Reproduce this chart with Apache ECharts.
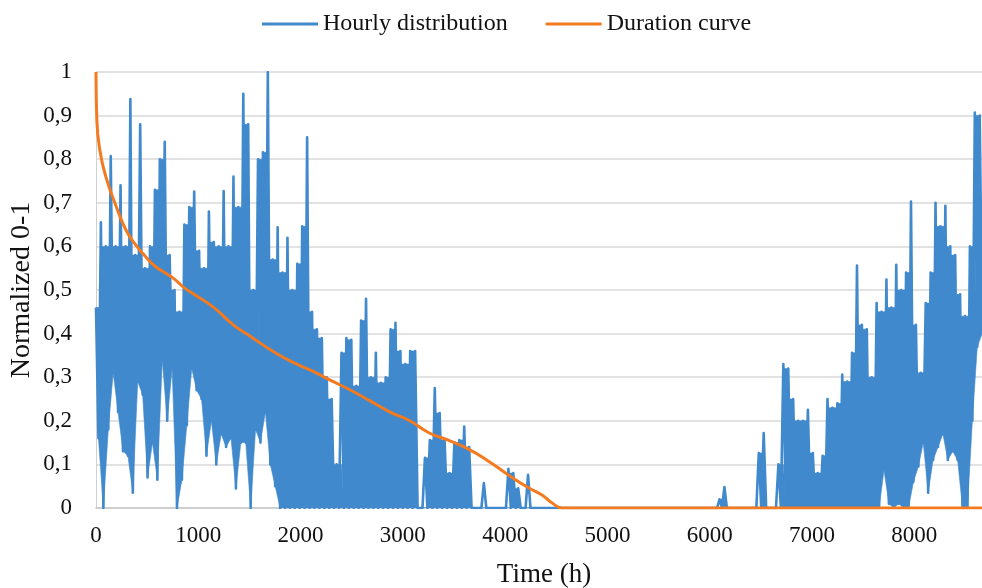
<!DOCTYPE html>
<html>
<head>
<meta charset="utf-8">
<script src="https://cdn.jsdelivr.net/npm/echarts@6/dist/echarts.min.js"></script>
<style>html,body{margin:0;padding:0;background:#fff}#c{width:982px;height:588px}</style>
</head>
<body>
<div id="c"></div>
<script>
// hourly series summarised per 48 h bin: daily high and low
var binStep = 48;
var hourlyHigh = [
 0.46,0.655,0.6,0.807,0.6,0.74,0.6,0.938,0.58,0.88,
 0.55,0.6,0.73,0.8,0.84,0.58,0.5,0.45,0.65,0.69,
 0.726,0.59,0.55,0.68,0.61,0.6,0.727,0.6,0.76,0.69,
 0.95,0.88,0.5,0.8,0.816,1.0,0.57,0.644,0.54,0.62,
 0.5,0.56,0.646,0.85,0.45,0.41,0.39,0.3,0.25,0.1,
 0.356,0.39,0.386,0.28,0.43,0.48,0.3,0.356,0.287,0.3,
 0.41,0.425,0.36,0.33,0.36,0.36,0,0.115,0.156,0.275,
 0.218,0.156,0.08,0.15,0.156,0.187,0.14,0,0,0.057,
 0,0,0,0,0.09,0.08,0.045,0,0.076,0,
 0,0,0,0,0,0,0,0,0,0,
 0,0,0,0,0,0,0,0,0,0,
 0,0,0,0,0,0,0,0,0,0,
 0,0,0,0,0,0,0,0.02,0.048,0,
 0,0,0,0,0,0.126,0.172,0,0,0.1,
 0.33,0.32,0.25,0.2,0.2,0.225,0.126,0.08,0.12,0.25,
 0.23,0.24,0.306,0.29,0.356,0.556,0.42,0.41,0.3,0.47,
 0.45,0.524,0.46,0.558,0.5,0.54,0.703,0.42,0.31,0.47,
 0.54,0.7,0.646,0.693,0.6,0.58,0.49,0.44,0.6,0.907,
 0.9
];
var hourlyLow = [
 0.16,0,0.18,0.31,0.22,0.13,0.12,0.035,0.29,0.26,
 0.07,0.15,0.065,0.34,0.2,0.32,0,0.065,0.19,0.32,
 0.27,0.25,0.12,0.2,0.1,0.17,0.14,0.16,0.045,0.15,
 0.15,0,0.18,0.15,0.22,0.1,0.05,0,0,0,
 0,0,0,0,0,0,0,0,0,0,
 0,0,0,0,0,0,0,0,0,0,
 0,0,0,0,0,0,0,0,0,0,
 0,0,0,0,0,0,0,0,0,0,
 0,0,0,0,0,0,0,0,0,0,
 0,0,0,0,0,0,0,0,0,0,
 0,0,0,0,0,0,0,0,0,0,
 0,0,0,0,0,0,0,0,0,0,
 0,0,0,0,0,0,0,0,0,0,
 0,0,0,0,0,0,0,0,0,0,
 0,0,0,0,0,0,0,0,0,0,
 0,0,0,0,0,0,0,0,0,0,
 0.087,0.01,0,0.01,0,0,0.06,0.095,0.15,0.035,
 0.11,0.14,0.17,0.11,0.13,0.11,0,0,0.2,0.37,
 0.4
];
// duration curve (hours, normalized value)
var durationHours = [0,8,38,96,192,288,383,479,575,671,767,863,958,1150,1342,1533,1725,1917,2108,2300,2492,2684,2875,3067,3259,3450,3642,3834,4025,4217,4361,4457,4562,8760];
var durationVals  = [1.0,0.89,0.82,0.76,0.695,0.64,0.605,0.578,0.555,0.54,0.525,0.505,0.49,0.46,0.42,0.39,0.36,0.335,0.315,0.292,0.27,0.245,0.22,0.2,0.172,0.155,0.135,0.108,0.077,0.048,0.03,0.012,0,0];
var xTicks = [0,1000,2000,3000,4000,5000,6000,7000,8000];

var BLUE = '#4189cd', ORANGE = '#f47a20';
var half = binStep / 2;
// zig-zag line through highs and lows
var hourlyData = [];
for (var i = 0; i < hourlyHigh.length; i++) {
  hourlyData.push([i * binStep, hourlyHigh[i]]);
  hourlyData.push([i * binStep + half, hourlyLow[i]]);
}
// body of the oscillation between consecutive bins
var bandData = [];
for (var j = 0; j < hourlyHigh.length - 1; j++) {
  bandData.push([j * binStep, hourlyHigh[j], hourlyLow[j], (j + 1) * binStep, hourlyHigh[j + 1], hourlyLow[j + 1]]);
}
var durationData = durationHours.map(function (h, k) { return [h, durationVals[k]]; });

var font = "'Liberation Serif','Times New Roman',serif";
var chart = echarts.init(document.getElementById('c'));
chart.setOption({
  animation: false,
  backgroundColor: '#fff',
  textStyle: { fontFamily: font },
  legend: {
    top: 7, left: 257,
    itemWidth: 56, itemHeight: 3, itemGap: 38,
    icon: 'rect',
    textStyle: { fontFamily: font, fontSize: 24, color: '#111' },
    data: [{ name: 'Hourly distribution', itemStyle: { color: BLUE } }, { name: 'Duration curve', itemStyle: { color: ORANGE } }]
  },
  grid: { left: 96, right: -10, top: 72, bottom: 80, containLabel: false, outerBoundsMode: 'none' },
  xAxis: {
    type: 'value', min: 0, max: 8760, interval: 1000,
    name: 'Time (h)', nameLocation: 'middle', nameGap: 53, nameMoveOverlap: false,
    nameTextStyle: { fontFamily: font, fontSize: 27, color: '#111' },
    axisLine: { show: true, lineStyle: { color: '#c8c8c8', width: 1.5 } },
    axisTick: { show: false },
    splitLine: { show: false },
    axisLabel: {
      fontFamily: font, fontSize: 23, color: '#111', margin: 16,
      showMaxLabel: false,
      formatter: function (v) { return xTicks.indexOf(v) >= 0 ? String(v) : ''; }
    }
  },
  yAxis: {
    type: 'value', min: 0, max: 1, interval: 0.1,
    name: 'Normalized 0-1', nameLocation: 'middle', nameGap: 60, nameMoveOverlap: false,
    nameTextStyle: { fontFamily: font, fontSize: 28, color: '#111' },
    axisLine: { show: true, lineStyle: { color: '#d0d0d0', width: 1 } },
    axisTick: { show: false },
    splitLine: { show: true, lineStyle: { color: '#d9d9d9', width: 1.5 } },
    axisLabel: {
      fontFamily: font, fontSize: 23, color: '#111', margin: 24,
      formatter: function (v) {
        var r = Math.round(v * 10) / 10;
        if (r === 0) return '0';
        if (r === 1) return '1';
        return r.toFixed(1).replace('.', ',');
      }
    }
  },
  series: [
    {
      name: 'Hourly distribution', type: 'custom', data: bandData,
      clip: true,
      encode: { x: [0, 3], y: [1, 2, 4, 5] },
      renderItem: function (params, api) {
        var t0 = api.value(0), h0 = api.value(1), l0 = api.value(2);
        var t1 = api.value(3), h1 = api.value(4), l1 = api.value(5);
        var m = Math.min(h0, h1);
        var pts = [
          api.coord([t0, m]),
          api.coord([t1, m]),
          api.coord([t1 + half, l1]),
          api.coord([t0 + half, l0])
        ];
        return {
          type: 'polygon',
          shape: { points: pts },
          style: { fill: BLUE, stroke: BLUE, lineWidth: 0.6 }
        };
      },
      itemStyle: { color: BLUE }
    },
    {
      name: 'Hourly distribution', type: 'line', data: hourlyData,
      symbol: 'none', smooth: false,
      lineStyle: { color: BLUE, width: 2.6, join: 'round' },
      itemStyle: { color: BLUE }
    },
    {
      name: 'Duration curve', type: 'line', data: durationData,
      symbol: 'none', smooth: true,
      lineStyle: { color: ORANGE, width: 3 },
      itemStyle: { color: ORANGE }
    }
  ]
});
</script>
</body>
</html>
